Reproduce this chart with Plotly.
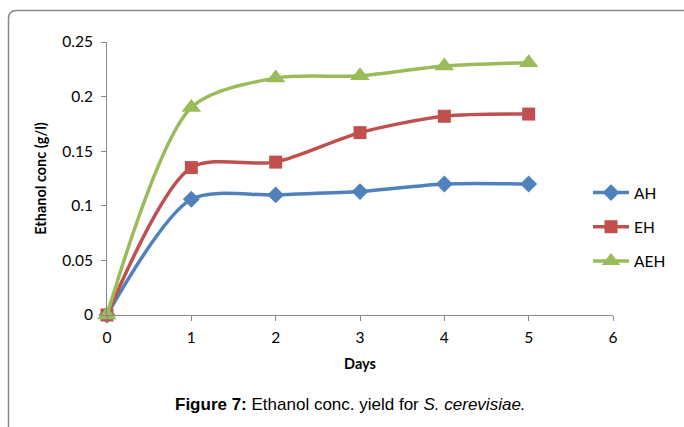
import plotly.graph_objects as go

days = [0, 1, 2, 3, 4, 5]
ah = [0, 0.106, 0.110, 0.113, 0.120, 0.120]
eh = [0, 0.135, 0.140, 0.167, 0.182, 0.184]
aeh = [0, 0.190, 0.217, 0.219, 0.228, 0.231]

series = [
    ("AH", ah, "#4F81BD", "diamond", 13),
    ("EH", eh, "#C0504D", "square", 13),
    ("AEH", aeh, "#9BBB59", "triangle-up", 17),
]

fig = go.Figure()
for name, vals, color, sym, size in series:
    fig.add_trace(go.Scatter(
        x=days, y=vals, name=name, mode="lines+markers",
        line=dict(color=color, width=3.5, shape="spline", smoothing=0.8),
        marker=dict(symbol=sym, size=size, color=color),
        legendgroup=name, cliponaxis=False,
    ))

L, R, T, B = 107, 71, 42, 112
W, H = 684, 427
pw, ph = W - L - R, H - T - B

def px(x):
    return (x - L) / pw

def py(y):
    return (H - B - y) / ph

# rounded frame (top-left corner), continues past the right and bottom edges
x0, y0, r = px(8.5), py(10.5), 8
frame = (f"M {x0},{py(440)} L {x0},{py(10.5 + r)} "
         f"Q {x0},{y0} {px(8.5 + r)},{y0} L {px(700)},{y0}")

fig.update_layout(
    width=W, height=H,
    margin=dict(l=L, r=R, t=T, b=B, autoexpand=False),
    paper_bgcolor="white", plot_bgcolor="white",
    font=dict(family="Lato, Carlito, sans-serif", size=15.5, color="#000"),
    showlegend=True,
    legend=dict(x=px(588), y=py(176), xanchor="left", yanchor="top",
                font=dict(size=15.5), traceorder="grouped", tracegroupgap=11,
                bgcolor="rgba(0,0,0,0)", itemwidth=36),
    xaxis=dict(range=[0, 6], dtick=1, tick0=0, showgrid=False, zeroline=False,
               showline=True, linecolor="#888", linewidth=1,
               ticks="outside", ticklen=5, tickcolor="#888", ticklabelstandoff=3,
               title=dict(text="<b>Days</b>", standoff=14, font=dict(size=14.5))),
    yaxis=dict(range=[0, 0.25], dtick=0.05, tick0=0, showgrid=False, zeroline=False,
               showline=True, linecolor="#888", linewidth=1,
               ticks="outside", ticklen=5, tickcolor="#888", ticklabelstandoff=5,
               title=dict(text="<b>Ethanol conc (g/l)</b>", standoff=12, font=dict(size=14.5))),
    shapes=[dict(type="path", xref="paper", yref="paper", path=frame,
                 line=dict(color="#8a8a8a", width=1.5), layer="below")],
    annotations=[dict(
        xref="paper", yref="paper", x=px(350), y=py(404), xanchor="center", yanchor="middle",
        showarrow=False,
        text="<b>Figure 7:</b> Ethanol conc. yield for <i>S. cerevisiae.</i>",
        font=dict(family="Liberation Sans, Arial, sans-serif", size=17, color="#000"),
    )],
)

fig.write_html("out.html")
